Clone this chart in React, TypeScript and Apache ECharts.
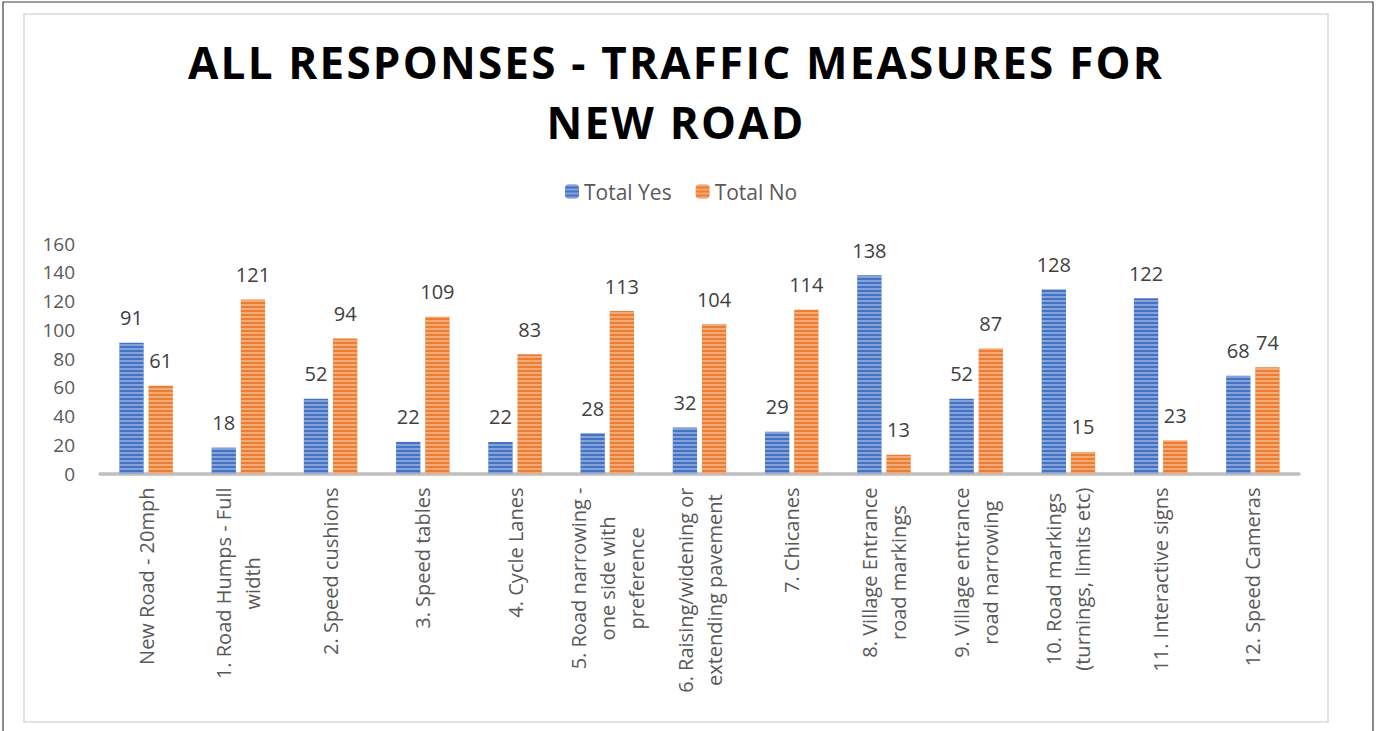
import React, { useEffect, useRef } from "react";
import * as echarts from "echarts";

const titleLines = ["ALL RESPONSES - TRAFFIC MEASURES FOR", "NEW ROAD"];
const seriesNames = ["Total Yes", "Total No"];
const categories = [
  "New Road - 20mph",
  "1. Road Humps - Full\nwidth",
  "2. Speed cushions",
  "3. Speed tables",
  "4. Cycle Lanes",
  "5. Road narrowing -\none side with\npreference",
  "6. Raising/widening or\nextending pavement",
  "7. Chicanes",
  "8. Village Entrance\nroad markings",
  "9. Village entrance\nroad narrowing",
  "10. Road markings\n(turnings, limits etc)",
  "11. Interactive signs",
  "12. Speed Cameras",
];
const totalYes = [91, 18, 52, 22, 22, 28, 32, 29, 138, 52, 128, 122, 68];
const totalNo = [61, 121, 94, 109, 83, 113, 104, 114, 13, 87, 15, 23, 74];
const yTicks = { min: 0, max: 160, interval: 20 };

const FONT = "'Open Sans', sans-serif";

export default function App() {
  const ref = useRef<HTMLDivElement>(null);
  useEffect(() => {
    if (!ref.current) return;
    const chart = echarts.init(ref.current, undefined, { renderer: "svg" });
    const decal = {
      symbol: "rect",
      symbolSize: 1,
      dashArrayX: [1, 0],
      dashArrayY: [1.5, 1.5],
      rotation: 0,
      color: "rgba(255,255,255,0.35)",
    };
    const mkSeries = (name: string, data: number[], color: string) => ({
      name,
      type: "bar",
      data,
      barCategoryGap: "42%",
      barGap: "20%",
      itemStyle: { color, decal },
      label: {
        show: true,
        position: "top",
        distance: 15,
        color: "#404040",
        fontSize: 20,
        fontFamily: FONT,
      },
    });
    chart.setOption({
      animation: false,
      backgroundColor: "#ffffff",
      title: {
        text: titleLines.join("\n"),
        left: 671,
        textAlign: "center",
        top: 27,
        textStyle: {
          fontFamily: FONT,
          fontWeight: "bold",
          fontSize: 44,
          lineHeight: 60,
          color: "#000000",
        },
      },
      legend: {
        data: seriesNames,
        left: 560,
        top: 176,
        itemWidth: 14,
        itemHeight: 14,
        itemGap: 24,
        textStyle: { fontFamily: FONT, fontSize: 21, color: "#595959" },
      },
      graphic: [
        {
          type: "rect",
          shape: { x: 3, y: 2, width: 1370, height: 760 },
          style: { fill: "none", stroke: "#404040", lineWidth: 1.2 },
          silent: true,
        },
        {
          type: "rect",
          shape: { x: 24, y: 14, width: 1304, height: 708 },
          style: { fill: "none", stroke: "#d9d9d9", lineWidth: 1.5 },
          silent: true,
        },
      ],
      grid: { left: 100, right: 77, top: 243.5, bottom: 257.5, containLabel: false },
      xAxis: {
        type: "category",
        data: categories,
        axisLine: { show: true, lineStyle: { color: "#bfbfbf", width: 3.5 } },
        axisTick: { show: false },
        axisLabel: {
          interval: 0,
          rotate: 90,
          margin: 14,
          color: "#595959",
          fontFamily: FONT,
          fontSize: 20,
          formatter: (v: string) =>
            v
              .split("\n")
              .map((l) => `{c|${l}}`)
              .join("\n"),
          rich: {
            c: {
              align: "center",
              fontFamily: FONT,
              fontSize: 20,
              lineHeight: 29,
              color: "#595959",
            },
          },
        },
      },
      yAxis: {
        type: "value",
        min: yTicks.min,
        max: yTicks.max,
        interval: yTicks.interval,
        axisLine: { show: false },
        axisTick: { show: false },
        splitLine: { show: false },
        axisLabel: {
          margin: 25,
          color: "#595959",
          fontFamily: FONT,
          fontSize: 19,
        },
      },
      series: [
        mkSeries(seriesNames[0], totalYes, "#4472c4"),
        mkSeries(seriesNames[1], totalNo, "#ed7d31"),
      ],
    });
    // widen the title's letter spacing, as in the reference
    const applySpacing = () => {
      if (!ref.current) return;
      ref.current.querySelectorAll("text").forEach((t) => {
        const s = (t.textContent || "").trim();
        if (titleLines.includes(s)) {
          (t as SVGTextElement).style.letterSpacing = "2.2px";
        }
      });
    };
    applySpacing();
    chart.on("finished", applySpacing);
    return () => chart.dispose();
  }, []);
  return (
    <div
      ref={ref}
      style={{ position: "absolute", left: 0, top: 0, width: 1376, height: 731 }}
    />
  );
}
